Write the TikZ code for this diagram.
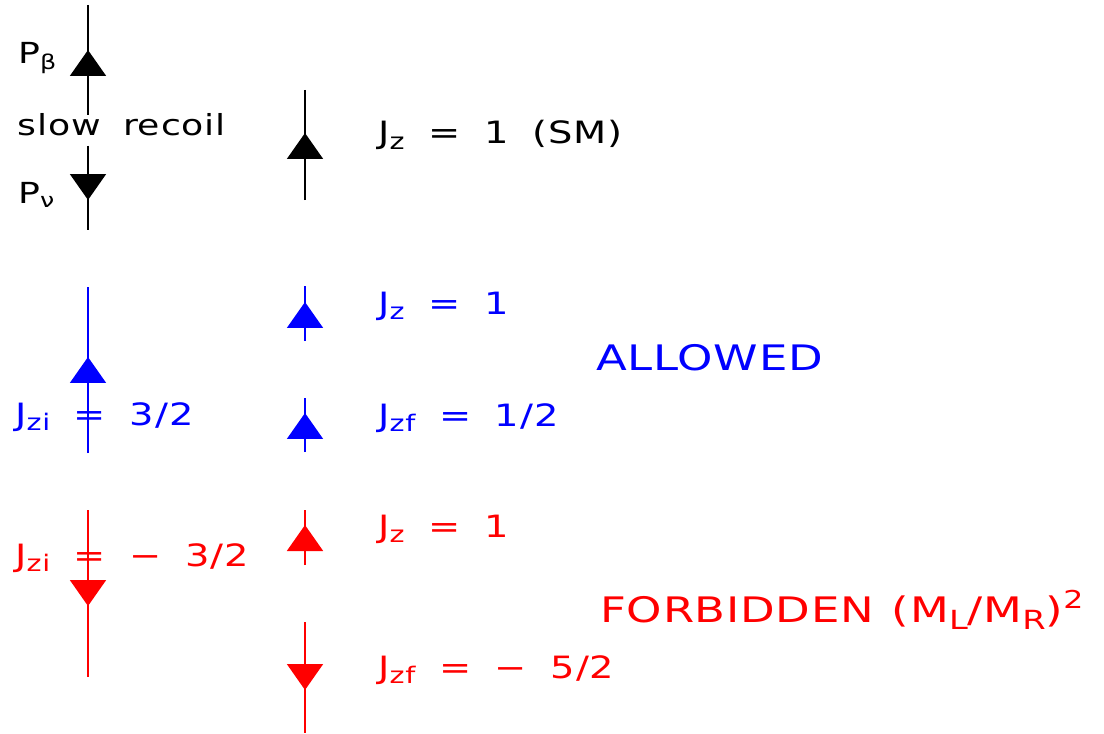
\documentclass[tikz,border=0pt]{standalone}
\usepackage{fontspec}
\usepackage{tikz}
\usetikzlibrary{arrows.meta}
\newfontfamily\hfont[FakeStretch=1.25, WordSpace=1.8, LetterSpace=3]{DejaVu Sans}
\newfontfamily\hbigfont[FakeStretch=1.28, WordSpace=1.2, LetterSpace=2]{DejaVu Sans}
\newcommand{\lowsub}[1]{\raisebox{-0.35ex}{\fontsize{13}{15}\selectfont #1}}
\newcommand{\lowsubbig}[1]{\raisebox{-0.4ex}{\fontsize{15}{17}\selectfont #1}}

\begin{document}
\begin{tikzpicture}[
    x=0.02cm, y=-0.02cm,
    spin/.style={line width=1.1pt},
    spintip/.style={spin, -{Triangle[width=0.72cm, length=0.52cm]}},
    lbl/.style={anchor=base west, inner sep=0pt,
                font=\hfont\fontsize{17.5}{20}\selectfont},
    note/.style={lbl, font=\hfont\fontsize{16.5}{19}\selectfont},
    big/.style={lbl, font=\hbigfont\fontsize{20}{24}\selectfont},
]
\useasboundingbox (0,0) rectangle (1104,733);

% SM: slow recoil, beta up and neutrino down
\coordinate (b_top) at (88,5);
\coordinate (b_mid1) at (88,115);
\coordinate (b_up) at (88,50);
\coordinate (b_mid2) at (88,146);
\coordinate (b_dn) at (88,200);
\coordinate (b_bot) at (88,230);
\draw[spin] (b_top) -- (b_mid1);
\draw[spintip] (b_mid1) -- (b_up);
\draw[spin] (b_mid2) -- (b_bot);
\draw[spintip] (b_mid2) -- (b_dn);
\node[note] (pb) at (18,64) {P\textsubscript{β}};
\node[note] (slow) at (17,136) {slow recoil};
\node[note] (pn) at (18,203) {P\textsubscript{ν}};

\coordinate (s_top) at (305,90);
\coordinate (s_up) at (305,133);
\coordinate (s_bot) at (305,200);
\draw[spin] (s_top) -- (s_bot);
\draw[spintip] (s_bot) -- (s_up);
\node[lbl] (sm) at (378,144) {J\lowsub{z} = 1 (SM)};

% Allowed
\begin{scope}[blue]
\coordinate (ai_top) at (88,287);
\coordinate (ai_up) at (88,357);
\coordinate (ai_bot) at (88,453);
\draw[spin] (ai_top) -- (ai_bot);
\draw[spintip] (ai_bot) -- (ai_up);
\node[lbl] (ai) at (15,425) {J\lowsub{zi} = 3/2};

\coordinate (a1_top) at (305,286);
\coordinate (a1_up) at (305,302);
\coordinate (a1_bot) at (305,341);
\draw[spin] (a1_top) -- (a1_bot);
\draw[spintip] (a1_bot) -- (a1_up);
\node[lbl] (a1) at (378,314) {J\lowsub{z} = 1};

\coordinate (af_top) at (305,398);
\coordinate (af_up) at (305,413);
\coordinate (af_bot) at (305,452);
\draw[spin] (af_top) -- (af_bot);
\draw[spintip] (af_bot) -- (af_up);
\node[lbl] (af) at (378,426) {J\lowsub{zf} = 1/2};

\node[big] (allowed) at (596,370) {ALLOWED};
\end{scope}

% Forbidden
\begin{scope}[red]
\coordinate (fi_top) at (88,510);
\coordinate (fi_dn) at (88,606);
\coordinate (fi_bot) at (88,677);
\draw[spin] (fi_top) -- (fi_bot);
\draw[spintip] (fi_top) -- (fi_dn);
\node[lbl] (fi) at (15,566) {J\lowsub{zi} = − 3/2};

\coordinate (f1_top) at (305,510);
\coordinate (f1_up) at (305,525);
\coordinate (f1_bot) at (305,565);
\draw[spin] (f1_top) -- (f1_bot);
\draw[spintip] (f1_bot) -- (f1_up);
\node[lbl] (f1) at (378,537) {J\lowsub{z} = 1};

\coordinate (ff_top) at (305,622);
\coordinate (ff_dn) at (305,690);
\coordinate (ff_bot) at (305,733);
\draw[spin] (ff_top) -- (ff_bot);
\draw[spintip] (ff_top) -- (ff_dn);
\node[lbl] (ff) at (378,678) {J\lowsub{zf} = − 5/2};

\node[big] (forbidden) at (600,622)
    {FORBIDDEN (M\lowsubbig{L}/M\lowsubbig{R})\textsuperscript{2}};
\end{scope}

\end{tikzpicture}
\end{document}
